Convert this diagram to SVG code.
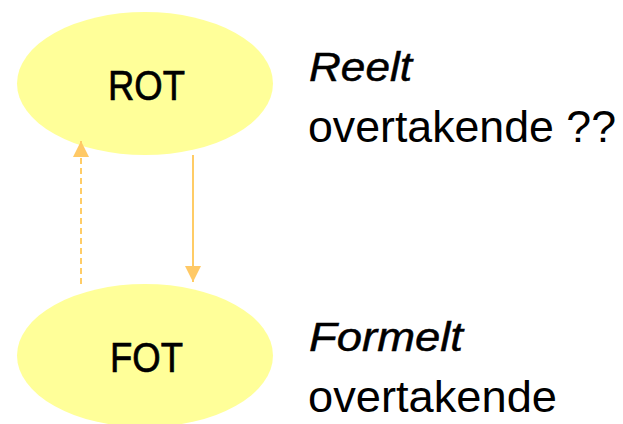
<svg xmlns="http://www.w3.org/2000/svg" width="623" height="424" viewBox="0 0 623 424">
  <style>
    .node { fill: #FFFF99; stroke: none; }
    .label { font-family: "Liberation Sans", Arial, sans-serif; fill: #000; }
    .center { text-anchor: middle; font-size: 42px; stroke: #000; stroke-width: 0.7px; }
    .side { font-size: 45px; }
    .title { font-style: italic; font-size: 41px; stroke: #000; stroke-width: 0.5px; }
    .link { stroke: #FFCC66; stroke-width: 2; fill: none; }
    .dashed { stroke-dasharray: 6 4; }
  </style>
  <defs>
    <marker id="head" viewBox="0 0 16 16" refX="16" refY="8" markerWidth="16" markerHeight="16" markerUnits="userSpaceOnUse" orient="auto">
      <path d="M0,0 L16,8 L0,16 Z" fill="#FFC966"/>
    </marker>
  </defs>

  <g id="rot">
    <ellipse class="node" cx="145" cy="83.5" rx="128" ry="71.5"/>
    <text class="label center" x="146.5" y="100" textLength="77" lengthAdjust="spacingAndGlyphs">ROT</text>
  </g>

  <g id="fot">
    <ellipse class="node" cx="145" cy="355.5" rx="128" ry="71.5"/>
    <text class="label center" x="146.5" y="372" textLength="73" lengthAdjust="spacingAndGlyphs">FOT</text>
  </g>

  <g id="connectors">
    <line class="link dashed" x1="81" y1="284" x2="81" y2="141" marker-end="url(#head)"/>
    <line class="link" x1="193" y1="155" x2="193" y2="282" marker-end="url(#head)"/>
  </g>

  <g id="notes">
    <text class="label title" x="309" y="81" textLength="103" lengthAdjust="spacingAndGlyphs">Reelt</text>
    <text class="label side" x="308" y="142" textLength="308" lengthAdjust="spacingAndGlyphs">overtakende ??</text>
    <text class="label title" x="309" y="351" textLength="154" lengthAdjust="spacingAndGlyphs">Formelt</text>
    <text class="label side" x="308" y="412" textLength="249" lengthAdjust="spacingAndGlyphs">overtakende</text>
  </g>
</svg>
